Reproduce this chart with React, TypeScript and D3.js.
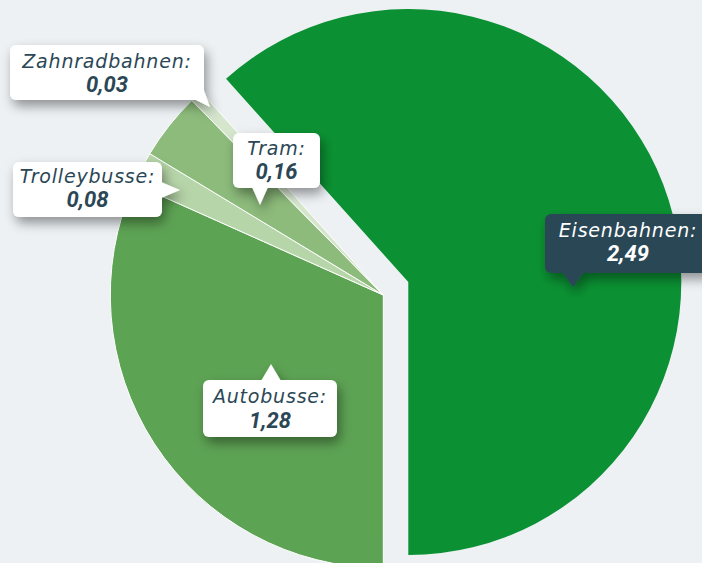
import React from "react";
import * as d3 from "d3";

const categories = ["Autobusse", "Trolleybusse", "Tram", "Zahnradbahnen", "Eisenbahnen"];
const values = [1.28, 0.08, 0.16, 0.03, 2.49];
const colors = ["#5da354", "#b6d5a8", "#8cbb7b", "#d5e6cd", "#0b9133"];
const valueLabels = ["1,28", "0,08", "0,16", "0,03", "2,49"];
const sliced = [false, false, false, false, true];

// Layout (positions of callouts, not data)
const W = 702, H = 563;
const cx = 383.3, cy = 295, R = 273;
const slicedDx = 25, slicedDy = -13;

type Callout = { x: number; y: number; w: number; h: number; tail: number[][]; dark?: boolean };
const callouts: Callout[] = [
  { x: 203, y: 380, w: 134, h: 57, tail: [[261, 381], [271, 364], [281, 381]] },
  { x: 13, y: 162, w: 149, h: 55, tail: [[161, 182], [180, 190], [161, 198]] },
  { x: 233, y: 133, w: 87, h: 55, tail: [[252, 187], [260, 205], [268, 187]] },
  { x: 10, y: 45, w: 194, h: 55, tail: [[194, 99], [210, 107], [203, 88]] },
  { x: 545, y: 214, w: 166, h: 59, tail: [[562, 272], [573, 287], [584, 272]], dark: true },
];
const lineY = [[403, 428], [183, 207], [155, 179], [68, 92], [237, 261]];

export default function App() {
  const pie = d3.pie<number>().sort(null).value((d) => d).startAngle(Math.PI).endAngle(3 * Math.PI);
  const arcs = pie(values);
  const arc = d3.arc<d3.PieArcDatum<number>>().innerRadius(0).outerRadius(R);
  const font = "'DejaVu Sans', sans-serif";
  const vfont = "Roboto, 'DejaVu Sans', sans-serif";
  return (
    <svg width={W} height={H} style={{ position: "absolute", left: 0, top: 0, background: "#edf1f4" }}>
      <defs>
        <filter id="sh" x="-30%" y="-30%" width="160%" height="190%">
          <feDropShadow dx="3" dy="6" stdDeviation="6" floodColor="#000" floodOpacity="0.4" />
        </filter>
      </defs>
      <rect width={W} height={H} fill="#edf1f4" />
      <g>
        {arcs.map((a, i) => (
          <path
            key={categories[i]}
            d={arc(a) || ""}
            transform={`translate(${cx + (sliced[i] ? slicedDx : 0)},${cy + (sliced[i] ? slicedDy : 0)})`}
            fill={colors[i]}
            stroke="#ffffff"
            strokeWidth={sliced[i] ? 0 : 1}
            strokeLinejoin="round"
          />
        ))}
      </g>
      {callouts.map((c, i) => {
        const fill = c.dark ? "#2b4756" : "#ffffff";
        const tcol = c.dark ? "#ffffff" : "#2b4756";
        const tx = c.x + c.w / 2;
        return (
          <g key={"c" + i}>
            <g filter="url(#sh)">
              <rect x={c.x} y={c.y} width={c.w} height={c.h} rx={6} fill={fill} />
              <polygon points={c.tail.map((p) => p.join(",")).join(" ")} fill={fill} />
            </g>
            <text x={tx} y={lineY[i][0]} textAnchor="middle" fontFamily={font} fontStyle="italic" fontSize={19} letterSpacing={0.8} fill={tcol}>
              {categories[i] + ":"}
            </text>
            <text x={tx} y={lineY[i][1]} textAnchor="middle" fontFamily={vfont} fontStyle="italic" fontWeight="bold" fontSize={22} fill={tcol}>
              {valueLabels[i]}
            </text>
          </g>
        );
      })}
    </svg>
  );
}
